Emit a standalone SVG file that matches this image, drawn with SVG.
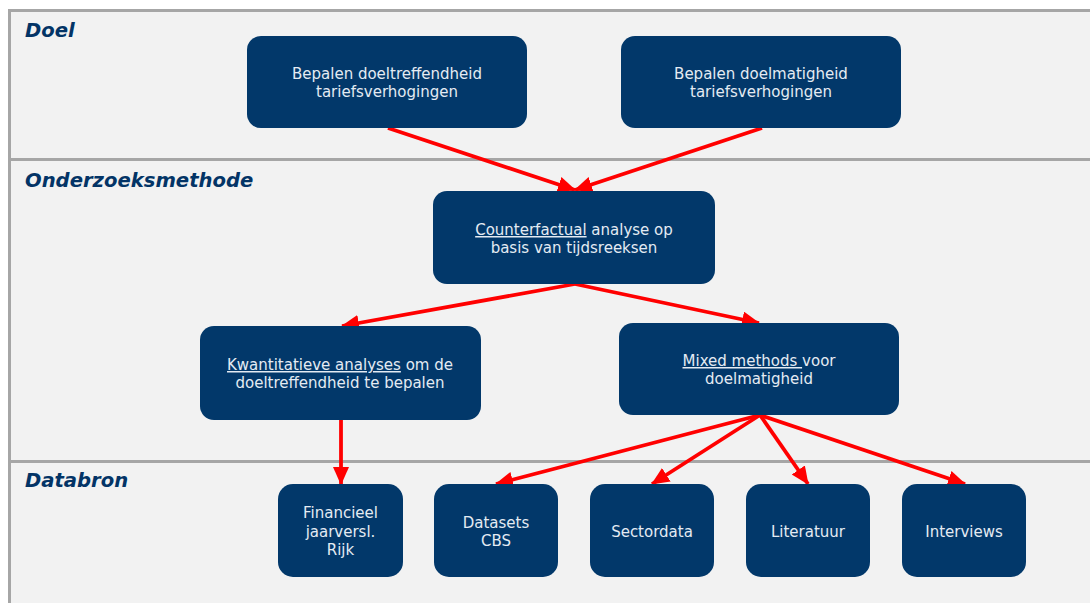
<svg xmlns="http://www.w3.org/2000/svg" width="1090" height="603" viewBox="0 0 1090 603">
<style>
.node rect{fill:#02386a;}
.node text{font-family:"DejaVu Sans",Verdana,sans-serif;font-size:15px;fill:#e4ebf3;text-anchor:middle;}
.u{text-decoration:underline;}
.hdr{font-family:"DejaVu Sans",Verdana,sans-serif;font-size:19.6px;font-weight:bold;font-style:italic;fill:#033466;}
.conn line{stroke:#ff0000;stroke-width:3.8;marker-end:url(#ah);}
</style>
<defs>
<marker id="ah" markerUnits="userSpaceOnUse" markerWidth="19" markerHeight="18" refX="17" refY="8" orient="auto">
<path d="M0,0 L18,8 L0,16 Z" fill="#ff0000"/>
</marker>
</defs>
<rect x="0" y="0" width="1090" height="603" fill="#ffffff"/>
<g id="frame">
<rect x="9.5" y="10.5" width="1090" height="600" fill="#f2f2f2" stroke="#a6a6a6" stroke-width="3"/>
<line x1="9" y1="159.5" x2="1090" y2="159.5" stroke="#a6a6a6" stroke-width="3"/>
<line x1="9" y1="461.5" x2="1090" y2="461.5" stroke="#a6a6a6" stroke-width="3"/>
<text class="hdr" x="25" y="37">Doel</text>
<text class="hdr" x="25" y="187">Onderzoeksmethode</text>
<text class="hdr" x="25" y="487">Databron</text>
</g>
<g id="connectors" class="conn">
<line x1="388" y1="128" x2="575" y2="190"/>
<line x1="762" y1="128" x2="575" y2="190"/>
<line x1="575" y1="284" x2="342" y2="326"/>
<line x1="575" y1="284" x2="759" y2="323"/>
<line x1="341" y1="420" x2="341" y2="484"/>
<line x1="760" y1="415" x2="496" y2="484"/>
<line x1="760" y1="415" x2="652" y2="484"/>
<line x1="760" y1="415" x2="808" y2="484"/>
<line x1="760" y1="415" x2="965" y2="484"/>
</g>
<g id="n1" class="node">
<rect x="247" y="36" width="280" height="92" rx="14"/>
<text x="387" y="79">Bepalen doeltreffendheid</text>
<text x="387" y="97">tariefsverhogingen</text>
</g>
<g id="n2" class="node">
<rect x="621" y="36" width="280" height="92" rx="14"/>
<text x="761" y="79">Bepalen doelmatigheid</text>
<text x="761" y="97">tariefsverhogingen</text>
</g>
<g id="n3" class="node">
<rect x="433" y="191" width="282" height="93" rx="14"/>
<text x="574" y="235"><tspan class="u">Counterfactual</tspan> analyse op</text>
<text x="574" y="253">basis van tijdsreeksen</text>
</g>
<g id="n4" class="node">
<rect x="200" y="326" width="281" height="94" rx="14"/>
<text x="340" y="370"><tspan class="u">Kwantitatieve analyses</tspan> om de</text>
<text x="340" y="388">doeltreffendheid te bepalen</text>
</g>
<g id="n5" class="node">
<rect x="619" y="323" width="280" height="92" rx="14"/>
<text x="759" y="366"><tspan class="u">Mixed methods </tspan>voor</text>
<text x="759" y="384">doelmatigheid</text>
</g>
<g id="n6" class="node">
<rect x="278" y="484" width="125" height="93" rx="15"/>
<text x="340.5" y="518">Financieel</text>
<text x="340.5" y="536.5">jaarversl.</text>
<text x="340.5" y="555">Rijk</text>
</g>
<g id="n7" class="node">
<rect x="434" y="484" width="124" height="93" rx="15"/>
<text x="496" y="527.5">Datasets</text>
<text x="496" y="545.5">CBS</text>
</g>
<g id="n8" class="node">
<rect x="590" y="484" width="124" height="93" rx="15"/>
<text x="652" y="537">Sectordata</text>
</g>
<g id="n9" class="node">
<rect x="746" y="484" width="124" height="93" rx="15"/>
<text x="808" y="537">Literatuur</text>
</g>
<g id="n10" class="node">
<rect x="902" y="484" width="124" height="93" rx="15"/>
<text x="964" y="537">Interviews</text>
</g>
</svg>
